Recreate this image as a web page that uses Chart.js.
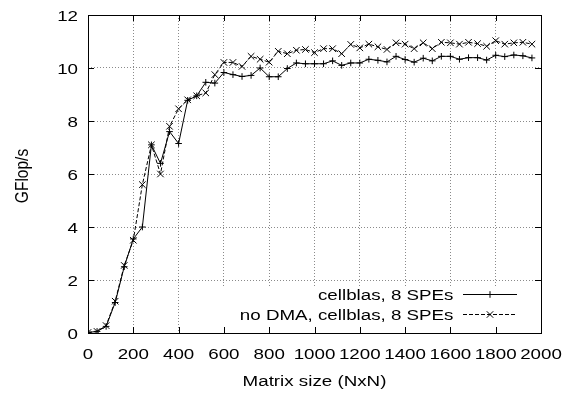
<!DOCTYPE html>
<html>
<head>
<meta charset="utf-8">
<script src="https://cdn.jsdelivr.net/npm/chart.js@4/dist/chart.umd.min.js"></script>
<style>
  html, body { margin: 0; padding: 0; background: #fff; }
  #wrap { width: 566px; height: 393px; position: relative; }
</style>
</head>
<body>
<div id="wrap"><canvas id="c" width="566" height="393"></canvas></div>
<script>
// ---- data ----
const matrixSizes = [0, 40, 80, 120, 160, 200, 240, 280, 320, 360, 400, 440, 480, 520, 560, 600, 640, 680, 720, 760,
  800, 840, 880, 920, 960, 1000, 1040, 1080, 1120, 1160, 1200, 1240, 1280, 1320, 1360, 1400, 1440, 1480, 1520, 1560,
  1600, 1640, 1680, 1720, 1760, 1800, 1840, 1880, 1920, 1960];

const cellblas = [0.02, 0.06, 0.25, 1.15, 2.5, 3.55, 4.0, 7.1, 6.4, 7.6, 7.15, 8.78, 8.95, 9.46, 9.43, 9.83, 9.75, 9.68, 9.72, 10.0,
  9.67, 9.67, 9.98, 10.19, 10.16, 10.16, 10.16, 10.27, 10.1, 10.19, 10.19, 10.33, 10.29, 10.23, 10.44, 10.32, 10.22, 10.37, 10.27, 10.44,
  10.44, 10.33, 10.39, 10.39, 10.3, 10.48, 10.43, 10.49, 10.46, 10.38];

const noDmaCellblas = [0.02, 0.06, 0.28, 1.2, 2.55, 3.5, 5.6, 7.1, 6.0, 7.8, 8.46, 8.8, 8.95, 9.06, 9.75, 10.21, 10.21, 10.06, 10.44, 10.33,
  10.22, 10.63, 10.54, 10.67, 10.7, 10.58, 10.73, 10.73, 10.54, 10.89, 10.76, 10.9, 10.8, 10.7, 10.95, 10.9, 10.73, 10.95, 10.73, 10.97,
  10.95, 10.9, 10.97, 10.92, 10.82, 11.03, 10.9, 10.95, 10.97, 10.9];

const seriesLabels = ['cellblas, 8 SPEs', 'no DMA, cellblas, 8 SPEs'];
const xTitle = 'Matrix size (NxN)';
const yTitle = 'GFlop/s';
const xTickStep = 200, xMin = 0, xMax = 2000;
const yTickStep = 2, yMin = 0, yMax = 12;

// ---- chart ----
const FONT = '15.5px "Liberation Sans", Arial, Helvetica, sans-serif';
const SX = 1.21; // reference text is horizontally wide
const toPoints = (xs, ys) => xs.map((x, i) => ({ x: x, y: ys[i] }));

function wideText(ctx, text, x, y, align, rotate) {
  ctx.save();
  ctx.translate(x, y);
  if (rotate) {
    ctx.rotate(-Math.PI / 2);
    ctx.scale(1, SX);
  } else {
    ctx.scale(SX, 1);
  }
  ctx.font = FONT;
  ctx.fillStyle = '#000';
  ctx.textAlign = align;
  ctx.textBaseline = 'alphabetic';
  ctx.fillText(text, 0, 0);
  ctx.restore();
}

const gnuplotDecor = {
  id: 'gnuplotDecor',
  beforeDatasetsDraw(chart) {
    const ctx = chart.ctx, a = chart.chartArea;
    ctx.save();
    ctx.fillStyle = '#ffffff';
    ctx.fillRect(214, 286, a.right - 214, a.bottom - 286);
    ctx.restore();
  },
  afterDatasetsDraw(chart) {
    const ctx = chart.ctx, a = chart.chartArea;
    const xs = chart.scales.x, ys = chart.scales.y;
    ctx.save();
    ctx.strokeStyle = '#000';
    ctx.lineWidth = 1;
    const tl = 6;
    ctx.beginPath();
    xs.ticks.forEach(t => {
      const px = Math.round(xs.getPixelForValue(t.value)) + 0.5;
      ctx.moveTo(px, a.bottom); ctx.lineTo(px, a.bottom - tl);
      ctx.moveTo(px, a.top); ctx.lineTo(px, a.top + tl);
    });
    ys.ticks.forEach(t => {
      const py = Math.round(ys.getPixelForValue(t.value)) + 0.5;
      ctx.moveTo(a.left, py); ctx.lineTo(a.left + tl, py);
      ctx.moveTo(a.right, py); ctx.lineTo(a.right - tl, py);
    });
    ctx.stroke();
    ctx.strokeRect(Math.round(a.left) + 0.5, Math.round(a.top) + 0.5,
      Math.round(a.right - a.left), Math.round(a.bottom - a.top));

    // tick labels
    xs.ticks.forEach(t => {
      wideText(ctx, String(t.value), xs.getPixelForValue(t.value), a.bottom + 26, 'center');
    });
    ys.ticks.forEach(t => {
      wideText(ctx, String(t.value), a.left - 10, ys.getPixelForValue(t.value) + 6.3, 'right');
    });
    // axis titles
    wideText(ctx, xTitle, (a.left + a.right) / 2, 386, 'center');
    wideText(ctx, yTitle, 27.5, (a.top + a.bottom) / 2 + 2, 'center', true);

    // key
    const rows = [294.5, 314.5];
    chart.data.datasets.forEach((ds, i) => {
      const y = rows[i];
      wideText(ctx, ds.label, 453.5, y + 5.8, 'right');
      ctx.save();
      ctx.lineWidth = 1;
      ctx.setLineDash(ds.borderDash || []);
      ctx.beginPath();
      ctx.moveTo(463, y); ctx.lineTo(517, y);
      ctx.stroke();
      ctx.setLineDash([]);
      const cx = 490;
      ctx.beginPath();
      if (ds.pointStyle === 'cross') {
        const r = ds.pointRadius;
        ctx.moveTo(cx - r, y); ctx.lineTo(cx + r, y);
        ctx.moveTo(cx, y - r); ctx.lineTo(cx, y + r);
      } else {
        const r = ds.pointRadius * Math.SQRT1_2;
        ctx.moveTo(cx - r, y - r); ctx.lineTo(cx + r, y + r);
        ctx.moveTo(cx - r, y + r); ctx.lineTo(cx + r, y - r);
      }
      ctx.stroke();
      ctx.restore();
    });
    ctx.restore();
  }
};

new Chart(document.getElementById('c'), {
  type: 'scatter',
  data: {
    datasets: [
      {
        label: seriesLabels[0],
        data: toPoints(matrixSizes, cellblas),
        showLine: true,
        borderColor: '#000',
        backgroundColor: '#000',
        borderWidth: 1,
        pointStyle: 'cross',
        pointRadius: 3.3,
        pointBorderWidth: 1,
        pointBorderColor: '#000',
        fill: false,
        tension: 0
      },
      {
        label: seriesLabels[1],
        data: toPoints(matrixSizes, noDmaCellblas),
        showLine: true,
        borderColor: '#000',
        backgroundColor: '#000',
        borderWidth: 1,
        borderDash: [4, 2],
        pointStyle: 'crossRot',
        pointRadius: 4.6,
        pointBorderWidth: 1,
        pointBorderColor: '#000',
        fill: false,
        tension: 0
      }
    ]
  },
  options: {
    responsive: false,
    animation: false,
    devicePixelRatio: 1,
    layout: { padding: { top: 15, right: 25, left: 0, bottom: 0 } },
    plugins: { legend: { display: false }, tooltip: { enabled: false } },
    scales: {
      x: {
        type: 'linear',
        min: xMin, max: xMax,
        afterFit(scale) { scale.height = 60; },
        ticks: { stepSize: xTickStep, display: false, autoSkip: false },
        grid: { color: '#8a8a8a', lineWidth: 1, drawTicks: false },
        border: { display: false, dash: [1, 2] },
        title: { display: false }
      },
      y: {
        type: 'linear',
        min: yMin, max: yMax,
        afterFit(scale) { scale.width = 88; },
        ticks: { stepSize: yTickStep, display: false },
        grid: { color: '#8a8a8a', lineWidth: 1, drawTicks: false },
        border: { display: false, dash: [1, 2] },
        title: { display: false }
      }
    }
  },
  plugins: [gnuplotDecor]
});
</script>
</body>
</html>
